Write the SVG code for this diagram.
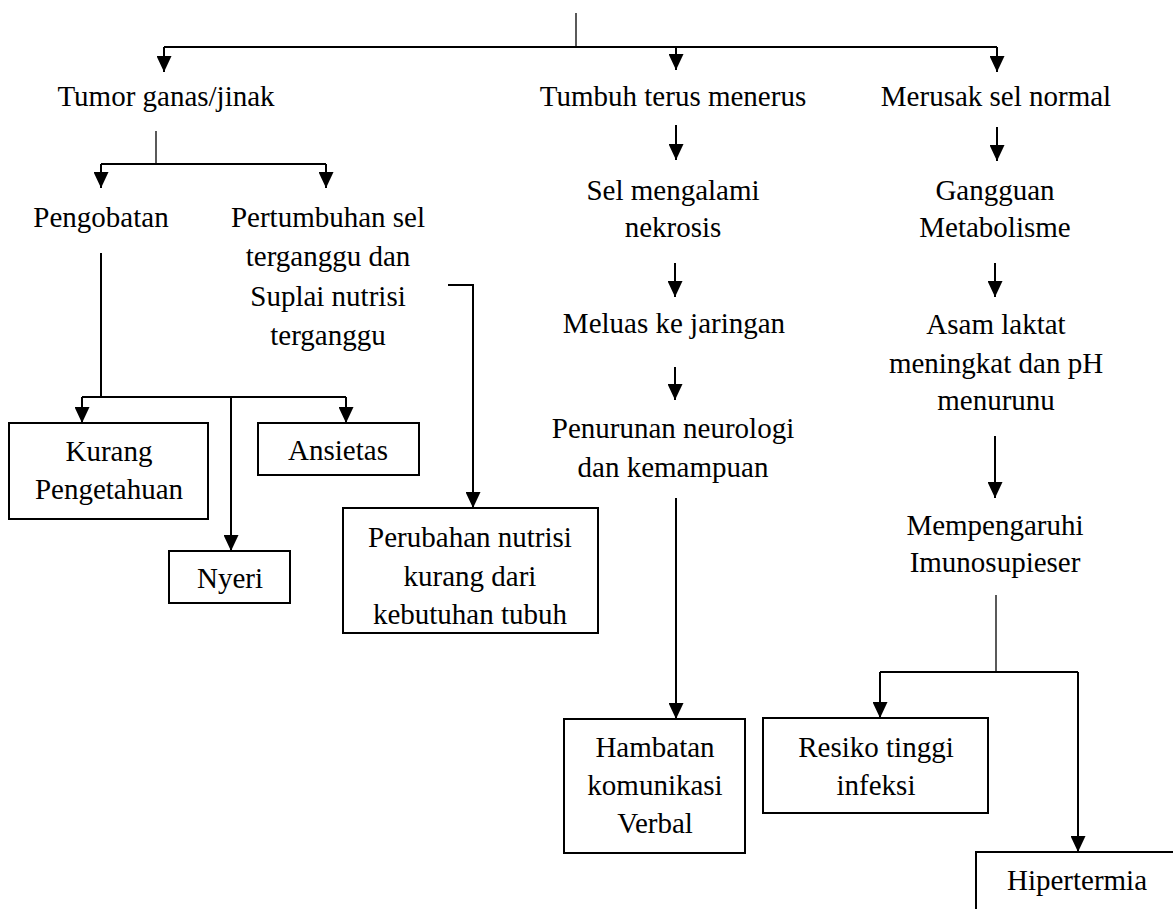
<svg xmlns="http://www.w3.org/2000/svg" width="1173" height="909" viewBox="0 0 1173 909">
<style>
  text { font-family: "Liberation Serif", serif; font-size: 29px; fill: #000; text-anchor: middle; }
  .box { fill: #fff; stroke: #000; stroke-width: 2; }
  .ln { fill: none; stroke: #000; stroke-width: 2; }
  .thin { fill: none; stroke: #000; stroke-width: 1.3; }
  .arr { fill: none; stroke: #000; stroke-width: 2; marker-end: url(#ah); }
</style>
<defs>
  <marker id="ah" viewBox="0 0 16 15" refX="16" refY="7.5" markerWidth="16" markerHeight="15" markerUnits="userSpaceOnUse" orient="auto">
    <path d="M0,0 L16,7.5 L0,15 z" fill="#000"/>
  </marker>
</defs>
<rect width="1173" height="909" fill="#fff"/>
<g id="connectors">
  <line class="thin" x1="576" y1="13" x2="576" y2="47"/>
  <line class="ln" x1="164" y1="47" x2="997" y2="47"/>
  <path class="arr" d="M164,47 V72"/>
  <path class="arr" d="M676,47 V70"/>
  <path class="arr" d="M997,47 V72"/>
  <line class="thin" x1="156" y1="131" x2="156" y2="164"/>
  <line class="ln" x1="101" y1="164" x2="326" y2="164"/>
  <path class="arr" d="M101,164 V188"/>
  <path class="arr" d="M326,164 V188"/>
  <line class="ln" x1="101" y1="253" x2="101" y2="397"/>
  <line class="ln" x1="82" y1="397" x2="346" y2="397"/>
  <path class="arr" d="M82,397 V423"/>
  <path class="arr" d="M346,397 V423"/>
  <path class="arr" d="M231,397 V551"/>
  <path class="arr" d="M448,285 H473 V508"/>
  <path class="arr" d="M676,125 V160"/>
  <path class="arr" d="M675,263 V297"/>
  <path class="arr" d="M675,367 V400"/>
  <path class="arr" d="M676,498 V719"/>
  <path class="arr" d="M997,127 V161"/>
  <path class="arr" d="M995,263 V297"/>
  <path class="arr" d="M995,436 V498"/>
  <line class="thin" x1="996" y1="595" x2="996" y2="672"/>
  <line class="ln" x1="880" y1="672" x2="1078" y2="672"/>
  <path class="arr" d="M880,672 V718"/>
  <path class="arr" d="M1078,672 V852"/>
</g>
<g id="tumor"><text x="166" y="106">Tumor ganas/jinak</text></g>
<g id="tumbuh"><text x="673" y="106">Tumbuh terus menerus</text></g>
<g id="merusak"><text x="996" y="106">Merusak sel normal</text></g>
<g id="pengobatan"><text x="101" y="227">Pengobatan</text></g>
<g id="pertumbuhan">
  <text x="328" y="227">Pertumbuhan sel</text>
  <text x="328" y="266">terganggu dan</text>
  <text x="328" y="306">Suplai nutrisi</text>
  <text x="328" y="345">terganggu</text>
</g>
<g id="kurang">
  <rect class="box" x="9" y="423" width="199" height="96"/>
  <text x="109" y="461">Kurang</text>
  <text x="109" y="499">Pengetahuan</text>
</g>
<g id="ansietas">
  <rect class="box" x="258" y="423" width="161" height="52"/>
  <text x="338" y="460">Ansietas</text>
</g>
<g id="nyeri">
  <rect class="box" x="169" y="551" width="121" height="52"/>
  <text x="230" y="588">Nyeri</text>
</g>
<g id="perubahan">
  <rect class="box" x="343" y="508" width="255" height="125"/>
  <text x="470" y="547">Perubahan nutrisi</text>
  <text x="470" y="586">kurang dari</text>
  <text x="470" y="624">kebutuhan tubuh</text>
</g>
<g id="sel">
  <text x="673" y="200">Sel mengalami</text>
  <text x="673" y="237">nekrosis</text>
</g>
<g id="meluas"><text x="674" y="333">Meluas ke jaringan</text></g>
<g id="penurunan">
  <text x="673" y="438">Penurunan neurologi</text>
  <text x="673" y="477">dan kemampuan</text>
</g>
<g id="hambatan">
  <rect class="box" x="564" y="719" width="181" height="134"/>
  <text x="655" y="757">Hambatan</text>
  <text x="655" y="795">komunikasi</text>
  <text x="655" y="833">Verbal</text>
</g>
<g id="gangguan">
  <text x="995" y="200">Gangguan</text>
  <text x="995" y="237">Metabolisme</text>
</g>
<g id="asam">
  <text x="996" y="334">Asam laktat</text>
  <text x="996" y="373">meningkat dan pH</text>
  <text x="996" y="410">menurunu</text>
</g>
<g id="mempengaruhi">
  <text x="995" y="535">Mempengaruhi</text>
  <text x="995" y="572">Imunosupieser</text>
</g>
<g id="resiko">
  <rect class="box" x="763" y="718" width="225" height="95"/>
  <text x="876" y="757">Resiko tinggi</text>
  <text x="876" y="795">infeksi</text>
</g>
<g id="hipertermia">
  <rect class="box" x="976" y="852" width="250" height="100"/>
  <text x="1077" y="890">Hipertermia</text>
</g>
</svg>
